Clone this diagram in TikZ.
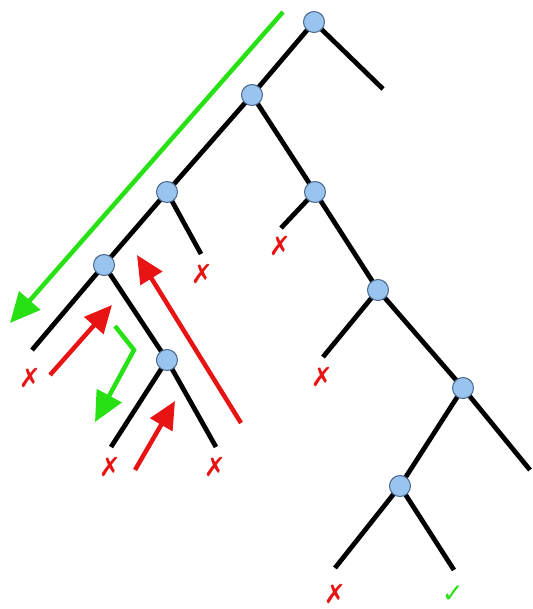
\documentclass[tikz,border=0pt]{standalone}
\usepackage{fontspec}
\newfontfamily\symfont{DejaVu Sans}
\usetikzlibrary{arrows.meta}
\definecolor{nodeblue}{RGB}{153,196,240}
\definecolor{nodeedge}{RGB}{75,105,140}
\definecolor{trygreen}{RGB}{40,225,20}
\definecolor{backred}{RGB}{232,20,20}
\tikzset{
	choice/.style={circle, draw=nodeedge, fill=nodeblue, minimum size=0.42cm, inner sep=0pt, line width=0.6pt},
	branch/.style={draw, line width=0.095cm},
	fail/.style={text=backred, inner sep=0pt, font=\symfont\fontsize{15}{15}\selectfont},
	ok/.style={text=trygreen, inner sep=0pt, font=\symfont\fontsize{15}{15}\selectfont},
	tryarrow/.style={draw=trygreen, line width=0.09cm, -{Triangle[length=0.6cm, width=0.55cm]}},
	backarrow/.style={draw=backred, line width=0.09cm, -{Triangle[length=0.55cm, width=0.5cm]}}
}

\begin{document}
\begin{tikzpicture}[x=0.02cm, y=-0.02cm]
	\useasboundingbox (0,0) rectangle (532,609);

	% choice points
	\coordinate (a) at (314,22);
	\coordinate (b) at (252,95);
	\coordinate (c) at (167,192);
	\coordinate (d) at (104,265);
	\coordinate (e) at (167,360);
	\coordinate (f) at (315,192);
	\coordinate (g) at (378,290);
	\coordinate (h) at (463,388);
	\coordinate (i) at (400,486);

	% leaves
	\coordinate (la) at (383,89);
	\coordinate (lc) at (201,254);
	\coordinate (ld) at (32,350);
	\coordinate (le1) at (111,447);
	\coordinate (le2) at (216,447);
	\coordinate (lf) at (281,228);
	\coordinate (lg) at (323,357);
	\coordinate (lh) at (530,470);
	\coordinate (li1) at (335,568);
	\coordinate (li2) at (454,570);

	% branches
	\draw[branch] (a) -- (la);
	\draw[branch] (a) -- (b);
	\draw[branch] (b) -- (c);
	\draw[branch] (b) -- (f);
	\draw[branch] (c) -- (d);
	\draw[branch] (c) -- (lc);
	\draw[branch] (d) -- (ld);
	\draw[branch] (d) -- (e);
	\draw[branch] (e) -- (le1);
	\draw[branch] (e) -- (le2);
	\draw[branch] (f) -- (lf);
	\draw[branch] (f) -- (g);
	\draw[branch] (g) -- (lg);
	\draw[branch] (g) -- (h);
	\draw[branch] (h) -- (lh);
	\draw[branch] (h) -- (i);
	\draw[branch] (i) -- (li1);
	\draw[branch] (i) -- (li2);

	\foreach \p in {a,b,c,d,e,f,g,h,i}
		\node[choice] (n\p) at (\p) {};

	% outcomes
	\node[fail] (xc) at (202,274) {✗};
	\node[fail] (xd) at (30,378) {✗};
	\node[fail] (xe1) at (110,467) {✗};
	\node[fail] (xe2) at (215,467) {✗};
	\node[fail] (xf) at (280,246) {✗};
	\node[fail] (xg) at (322,377) {✗};
	\node[fail] (xi) at (335,594) {✗};
	\node[ok] (vi) at (453,594) {✓};

	% search moves
	\coordinate (g1s) at (283,12);
	\coordinate (g1e) at (10,323);
	\coordinate (g2s) at (115,326);
	\coordinate (g2c) at (134,350);
	\coordinate (g2e) at (95,422);
	\coordinate (r1s) at (241,423);
	\coordinate (r1e) at (137,255);
	\coordinate (r2s) at (50,375);
	\coordinate (r2e) at (112,305);
	\coordinate (r3s) at (135,470);
	\coordinate (r3e) at (175,401);

	\draw[tryarrow] (g1s) -- (g1e);
	\draw[tryarrow, line join=miter] (g2s) -- (g2c) -- (g2e);
	\draw[backarrow] (r1s) -- (r1e);
	\draw[backarrow] (r2s) -- (r2e);
	\draw[backarrow] (r3s) -- (r3e);
\end{tikzpicture}
\end{document}
